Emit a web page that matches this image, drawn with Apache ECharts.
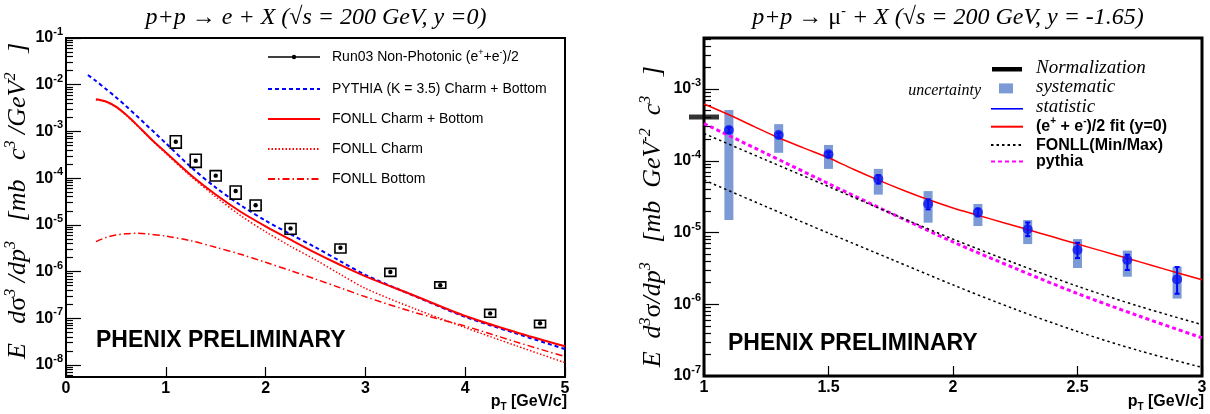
<!DOCTYPE html>
<html>
<head>
<meta charset="utf-8">
<script src="https://cdn.jsdelivr.net/npm/echarts@6/dist/echarts.min.js"></script>
<style>
html, body { margin: 0; padding: 0; background: #fff; }
#chart { width: 1210px; height: 414px; }
</style>
</head>
<body>
<div id="chart"></div>
<script>
const SANS = '"Liberation Sans", Arial, sans-serif'
const SERIF = '"Liberation Serif", "Times New Roman", serif'

// ---- left panel: p+p -> e + X, y = 0 ----
const runPt = [1.1, 1.3, 1.5, 1.7, 1.9, 2.25, 2.75, 3.25, 3.75, 4.25, 4.75]
const runVal = [6.0e-4, 2.36e-4, 1.13e-4, 5.3e-5, 2.63e-5, 8.4e-6, 3.24e-6, 9.8e-7, 5.1e-7, 1.27e-7, 7.8e-8]
const runSysHi = [8.1e-4, 3.24e-4, 1.45e-4, 6.8e-5, 3.4e-5, 1.07e-5, 3.9e-6, 1.17e-6, 6.0e-7, 1.55e-7, 9.1e-8]
const runSysLo = [4.4e-4, 1.7e-4, 8.7e-5, 3.55e-5, 2.0e-5, 6.3e-6, 2.5e-6, 7.9e-7, 4.4e-7, 1.05e-7, 6.3e-8]

const pythiaPt = [0.22, 0.3, 0.4, 0.5, 0.6, 0.7, 0.8, 0.9, 1.0, 1.25, 1.5, 1.75, 2.0, 2.25, 2.5, 2.75, 3.0, 3.5, 4.0, 4.5, 5.0]
const pythiaVal = [1.62e-2, 1.2e-2, 8.1e-3, 5.4e-3, 3.5e-3, 2.24e-3, 1.41e-3, 8.9e-4, 5.6e-4, 1.74e-4, 6.3e-5, 2.63e-5, 1.23e-5, 6.3e-6, 3.3e-6, 1.66e-6, 8.5e-7, 2.95e-7, 1.07e-7, 4.8e-8, 2.19e-8]

const fonllPt = [0.3, 0.4, 0.5, 0.6, 0.7, 0.8, 0.9, 1.0, 1.25, 1.5, 1.75, 2.0, 2.25, 2.5, 2.75, 3.0, 3.5, 4.0, 4.5, 5.0]
const fonllVal = [4.9e-3, 4.37e-3, 3.39e-3, 2.29e-3, 1.45e-3, 8.9e-4, 5.5e-4, 3.55e-4, 1.17e-4, 4.47e-5, 1.91e-5, 9.3e-6, 4.8e-6, 2.51e-6, 1.38e-6, 7.9e-7, 3.0e-7, 1.12e-7, 5.1e-8, 2.51e-8]
const charmVal = [4.79e-3, 4.27e-3, 3.31e-3, 2.24e-3, 1.41e-3, 8.7e-4, 5.4e-4, 3.39e-4, 1.1e-4, 3.98e-5, 1.58e-5, 7.1e-6, 3.47e-6, 1.78e-6, 8.7e-7, 4.37e-7, 1.58e-7, 6.3e-8, 2.63e-8, 1.12e-8]

const bottomPt = [0.3, 0.4, 0.5, 0.6, 0.7, 0.8, 1.0, 1.25, 1.5, 1.75, 2.0, 2.25, 2.5, 2.75, 3.0, 3.5, 4.0, 4.5, 5.0]
const bottomVal = [4.37e-6, 5.37e-6, 6.03e-6, 6.46e-6, 6.6e-6, 6.46e-6, 5.75e-6, 4.57e-6, 3.31e-6, 2.34e-6, 1.58e-6, 1.05e-6, 6.9e-7, 4.47e-7, 2.88e-7, 1.32e-7, 6.8e-8, 3.16e-8, 1.51e-8]

// ---- right panel: p+p -> mu- + X, y = -1.65 ----
const muPt = [1.1, 1.3, 1.5, 1.7, 1.9, 2.1, 2.3, 2.5, 2.7, 2.9]
const muVal = [2.68e-4, 2.28e-4, 1.23e-4, 5.57e-5, 2.5e-5, 1.91e-5, 1.11e-5, 5.7e-6, 4.14e-6, 2.22e-6]
const muSysHi = [5.1e-4, 3.24e-4, 1.66e-4, 7.7e-5, 3.78e-5, 2.5e-5, 1.49e-5, 8.1e-6, 5.6e-6, 3.34e-6]
const muSysLo = [1.49e-5, 1.29e-4, 7.7e-5, 3.37e-5, 1.37e-5, 1.23e-5, 6.9e-6, 3.2e-6, 2.42e-6, 1.2e-6]
const muStatHi = [2.9e-4, 2.45e-4, 1.32e-4, 6.3e-5, 2.9e-5, 2.15e-5, 1.38e-5, 7.2e-6, 4.9e-6, 3.3e-6]
const muStatLo = [2.46e-4, 2.1e-4, 1.14e-4, 4.8e-5, 2.1e-5, 1.68e-5, 8.9e-6, 4.4e-6, 3.0e-6, 1.4e-6]

const fitPt = [1.0, 1.1, 1.2, 1.3, 1.4, 1.5, 1.6, 1.7, 1.8, 1.9, 2.0, 2.1, 2.2, 2.3, 2.4, 2.5, 2.6, 2.7, 2.8, 2.9, 3.0]
const fitVal = [6.17e-4, 4.37e-4, 3.02e-4, 2.09e-4, 1.51e-4, 1.1e-4, 7.6e-5, 5.37e-5, 3.89e-5, 2.88e-5, 2.2e-5, 1.74e-5, 1.38e-5, 1.1e-5, 8.7e-6, 6.9e-6, 5.5e-6, 4.37e-6, 3.47e-6, 2.75e-6, 2.19e-6]

const modelPt = [1.0, 1.25, 1.5, 1.75, 2.0, 2.25, 2.5, 2.75, 3.0]
const fonllMaxVal = [2.4e-4, 1.02e-4, 4.37e-5, 1.86e-5, 8.1e-6, 3.72e-6, 1.78e-6, 9.3e-7, 5.2e-7]
const fonllMinVal = [5.4e-5, 2.29e-5, 9.8e-6, 4.27e-6, 1.86e-6, 8.5e-7, 4.17e-7, 2.24e-7, 1.32e-7]
const pythiaMuVal = [3.3e-4, 1.26e-4, 4.8e-5, 1.86e-5, 7.4e-6, 3.16e-6, 1.41e-6, 6.8e-7, 3.4e-7]

const normPt = [1.0]
const normVal = [4.07e-4]

// axis ranges and tick labels
const leftYMin = 5.53e-9
const leftYMax = 1e-1
const rightYMin = 1e-7
const rightYMax = 5.14e-3
const leftDecades = [1e-8, 1e-7, 1e-6, 1e-5, 1e-4, 1e-3, 1e-2, 1e-1]
const rightDecades = [1e-7, 1e-6, 1e-5, 1e-4, 1e-3]

// 2..9 x 10^n ticks between the decades
const minorTicks = (decades, lo, hi) => {
  const out = []
  const all = [decades[0] / 10].concat(decades)
  all.forEach(d => {
    for (let k = 2; k <= 9; k++) {
      const v = k * d
      if (v >= lo && v <= hi) out.push(v)
    }
  })
  return out
}

const pairs = (xs, ys) => xs.map((x, i) => [x, ys[i]])

const decadeLabel = v => '{b|10}{s|' + Math.round(Math.log10(v)) + '}'

const tickRich = {
  b: { fontFamily: SANS, fontWeight: 'bold', fontSize: 16, color: '#000' },
  s: { fontFamily: SANS, fontWeight: 'bold', fontSize: 11, color: '#000', padding: [0, 0, 12, 0] }
}

const nameRich = {
  i: { fontFamily: SERIF, fontStyle: 'italic', fontSize: 26, color: '#000' },
  u: { fontFamily: SERIF, fontSize: 26, color: '#000' },
  s: { fontFamily: SERIF, fontStyle: 'italic', fontSize: 16, color: '#000', padding: [0, 0, 15, 0] }
}

const ptRich = {
  b: { fontFamily: SANS, fontWeight: 'bold', fontSize: 16, fill: '#000' },
  t: { fontFamily: SANS, fontWeight: 'bold', fontSize: 10, fill: '#000', padding: [10, 0, 0, 0] }
}

const makeXAxis = (grid, min, max, interval) => ({
  gridIndex: grid,
  type: 'value',
  min: min,
  max: max,
  interval: interval,
  axisLine: { show: false },
  axisTick: { inside: true, length: 10, lineStyle: { color: '#000', width: 1.2 } },
  axisLabel: { fontFamily: SANS, fontWeight: 'bold', fontSize: 16, color: '#000', margin: 4 },
  splitLine: { show: false }
})

const makeMajorY = (grid, min, max, decades, name, gap) => ({
  gridIndex: grid,
  type: 'log',
  position: 'left',
  min: min,
  max: max,
  axisLine: { show: false },
  axisTick: { inside: true, length: 15, customValues: decades, lineStyle: { color: '#000', width: 1.2 } },
  axisLabel: { customValues: decades, formatter: decadeLabel, rich: tickRich, margin: 3 },
  splitLine: { show: false },
  name: name,
  nameLocation: 'middle',
  nameRotate: 90,
  nameGap: gap,
  nameTextStyle: { rich: nameRich }
})

const makeMinorY = (grid, min, max, decades) => ({
  gridIndex: grid,
  type: 'log',
  position: 'left',
  min: min,
  max: max,
  axisLine: { show: false },
  axisTick: { inside: true, length: 7, customValues: minorTicks(decades, min, max), lineStyle: { color: '#000', width: 1.2 } },
  axisLabel: { show: false },
  splitLine: { show: false }
})

// open box (systematic) with the point inside
const renderRunBox = (params, api) => {
  const x = api.value(0)
  const c = api.coord([x, api.value(1)])
  const top = api.coord([x, api.value(2)])
  const bot = api.coord([x, api.value(3)])
  return {
    type: 'group',
    children: [
      { type: 'rect', shape: { x: c[0] - 5.5, y: top[1], width: 11, height: bot[1] - top[1] },
        style: { fill: 'none', stroke: '#000', lineWidth: 1.6 } },
      { type: 'circle', shape: { cx: c[0], cy: c[1], r: 2.2 }, style: { fill: '#000' } }
    ]
  }
}

const renderSysBox = (params, api) => {
  const x = api.value(0)
  const top = api.coord([x, api.value(1)])
  const bot = api.coord([x, api.value(2)])
  return { type: 'rect', shape: { x: top[0] - 4.5, y: top[1], width: 9, height: bot[1] - top[1] },
    style: { fill: '#7c9bd6' } }
}

const renderStatBar = (params, api) => {
  const x = api.value(0)
  const top = api.coord([x, api.value(1)])
  const bot = api.coord([x, api.value(2)])
  const st = { stroke: '#0000ff', lineWidth: 2 }
  return {
    type: 'group',
    children: [
      { type: 'line', shape: { x1: top[0], y1: top[1], x2: bot[0], y2: bot[1] }, style: st },
      { type: 'line', shape: { x1: top[0] - 2.5, y1: top[1], x2: top[0] + 2.5, y2: top[1] }, style: st },
      { type: 'line', shape: { x1: bot[0] - 2.5, y1: bot[1], x2: bot[0] + 2.5, y2: bot[1] }, style: st }
    ]
  }
}

const leftLegendText = {
  'Run03': '{t|Run03 Non-Photonic (e}{ts|+}{t|+e}{ts|-}{t|)/2}',
  'PYTHIA': '{t|PYTHIA (K = 3.5) Charm + Bottom}',
  'FONLL Charm + Bottom': '{t|FONLL Charm + Bottom}',
  'FONLL Charm': '{t|FONLL Charm}',
  'FONLL Bottom': '{t|FONLL Bottom}'
}

const rightLegendText = {
  'Normalization': '{it|Normalization}',
  'systematic': '{it|systematic}',
  'statistic': '{it|statistic}',
  'fit': '{bd|(e}{bs|+}{bd| + e}{bs|-}{bd|)/2 fit (y=0)}',
  'FONLL(Min/Max)': '{bd|FONLL(Min/Max)}',
  'pythia': '{bd|pythia}'
}

const shown = { opacity: 1 }

const chart = echarts.init(document.getElementById('chart'))

const option = {
  animation: false,
  backgroundColor: '#fff',
  grid: [
    { left: 66, top: 38, width: 499, height: 339, show: true, borderColor: '#000', borderWidth: 2, outerBoundsMode: 'none' },
    { left: 704, top: 38, width: 498, height: 338, show: true, borderColor: '#000', borderWidth: 3, outerBoundsMode: 'none' }
  ],
  xAxis: [
    makeXAxis(0, 0, 5, 1),
    makeXAxis(1, 1, 3, 0.5)
  ],
  yAxis: [
    makeMajorY(0, leftYMin, leftYMax, leftDecades,
      '{i|  E   d}{u|σ}{s|3}{i| /dp}{s|3}{i|   [mb   c}{s|3}{i| /GeV}{s|2}{i|   ]}', 29),
    makeMinorY(0, leftYMin, leftYMax, leftDecades),
    makeMajorY(1, rightYMin, rightYMax, rightDecades,
      '{i|E  d}{s|3}{u|σ}{i|/dp}{s|3}{i|   [mb  GeV}{s|-2}{i|  c}{s|3}{i|   ]   }', 35),
    makeMinorY(1, rightYMin, rightYMax, rightDecades)
  ],
  legend: [
    {
      orient: 'vertical',
      left: 267,
      top: 48,
      padding: 0,
      itemWidth: 52,
      itemHeight: 14,
      itemGap: 16,
      selectedMode: false,
      itemStyle: { opacity: 0 },
      data: [
        { name: 'Run03', itemStyle: shown,
          icon: 'path://M0,0 M52,14 M0,6.2 L52,6.2 L52,7.8 L0,7.8 Z M23.8,7 A2.2,2.2 0 1 1 28.2,7 A2.2,2.2 0 1 1 23.8,7 Z' },
        'PYTHIA', 'FONLL Charm + Bottom', 'FONLL Charm', 'FONLL Bottom'
      ],
      formatter: name => leftLegendText[name],
      textStyle: {
        padding: [0, 0, 0, 7],
        rich: {
          t: { fontFamily: SANS, fontSize: 14, color: '#000', lineHeight: 16 },
          ts: { fontFamily: SANS, fontSize: 9, color: '#000', lineHeight: 8, padding: [0, 0, 9, 0] }
        }
      }
    },
    {
      orient: 'vertical',
      left: 990,
      top: 58.5,
      padding: 0,
      itemWidth: 32,
      itemHeight: 19,
      itemGap: 0.4,
      selectedMode: false,
      itemStyle: { opacity: 0 },
      data: [
        { name: 'Normalization', itemStyle: shown, icon: 'path://M0,0 M32,19 M1,8.5 L31,8.5 L31,13 L1,13 Z' },
        { name: 'systematic', itemStyle: shown, icon: 'path://M0,0 M32,19 M8,5.5 L22,5.5 L22,15.5 L8,15.5 Z' },
        { name: 'statistic', itemStyle: shown, icon: 'path://M0,0 M32,19 M0,10.7 L32,10.7 L32,12.3 L0,12.3 Z' },
        'fit', 'FONLL(Min/Max)', 'pythia'
      ],
      formatter: name => rightLegendText[name],
      textStyle: {
        padding: [0, 0, 0, 8],
        rich: {
          it: { fontFamily: SERIF, fontStyle: 'italic', fontSize: 19, color: '#000', lineHeight: 19 },
          bd: { fontFamily: SANS, fontWeight: 'bold', fontSize: 16, color: '#000', lineHeight: 19 },
          bs: { fontFamily: SANS, fontWeight: 'bold', fontSize: 10, color: '#000', lineHeight: 8, padding: [0, 0, 10, 0] }
        }
      }
    }
  ],
  graphic: [
    { type: 'text', x: 316, y: 18, style: {
      text: '{i|p+p → e + X (√s = 200 GeV, y =0)}', align: 'center', verticalAlign: 'middle',
      rich: { i: { fontFamily: SERIF, fontStyle: 'italic', fontSize: 24, fill: '#000' } } } },
    { type: 'text', x: 948, y: 18, style: {
      text: '{i|p+p → }{u|μ}{us|-}{i| + X (√s = 200 GeV, y = -1.65)}', align: 'center', verticalAlign: 'middle',
      rich: {
        i: { fontFamily: SERIF, fontStyle: 'italic', fontSize: 24, fill: '#000' },
        u: { fontFamily: SERIF, fontSize: 24, fill: '#000' },
        us: { fontFamily: SERIF, fontSize: 14, fill: '#000', padding: [0, 0, 13, 0] }
      } } },
    { type: 'text', x: 567, y: 402, style: {
      text: '{b|p}{t|T}{b| [GeV/c]}', align: 'right', verticalAlign: 'middle', rich: ptRich } },
    { type: 'text', x: 1204, y: 402, style: {
      text: '{b|p}{t|T}{b| [GeV/c]}', align: 'right', verticalAlign: 'middle', rich: ptRich } },
    { type: 'text', x: 96, y: 341, style: {
      text: 'PHENIX PRELIMINARY', fontFamily: SANS, fontWeight: 'bold', fontSize: 23, fill: '#000',
      align: 'left', verticalAlign: 'middle' } },
    { type: 'text', x: 728, y: 344, style: {
      text: 'PHENIX PRELIMINARY', fontFamily: SANS, fontWeight: 'bold', fontSize: 23, fill: '#000',
      align: 'left', verticalAlign: 'middle' } },
    { type: 'text', x: 981, y: 91, style: {
      text: 'uncertainty', fontFamily: SERIF, fontStyle: 'italic', fontSize: 16, fill: '#000',
      align: 'right', verticalAlign: 'middle' } }
  ],
  series: [
    // left panel
    {
      name: 'FONLL Bottom', type: 'line', xAxisIndex: 0, yAxisIndex: 0,
      data: pairs(bottomPt, bottomVal), symbol: 'none', smooth: 0.3,
      lineStyle: { color: '#ff0000', width: 1.5, type: [7, 3, 1.5, 3] }
    },
    {
      name: 'FONLL Charm', type: 'line', xAxisIndex: 0, yAxisIndex: 0,
      data: pairs(fonllPt, charmVal), symbol: 'none', smooth: 0.3,
      lineStyle: { color: '#ff0000', width: 1.5, type: [1.5, 2] }
    },
    {
      name: 'PYTHIA', type: 'line', xAxisIndex: 0, yAxisIndex: 0,
      data: pairs(pythiaPt, pythiaVal), symbol: 'none', smooth: 0.3,
      lineStyle: { color: '#0000ff', width: 2, type: [4, 3] }
    },
    {
      name: 'FONLL Charm + Bottom', type: 'line', xAxisIndex: 0, yAxisIndex: 0,
      data: pairs(fonllPt, fonllVal), symbol: 'none', smooth: 0.3,
      lineStyle: { color: '#ff0000', width: 2 }
    },
    {
      name: 'Run03', type: 'custom', xAxisIndex: 0, yAxisIndex: 0,
      data: runPt.map((x, i) => [x, runVal[i], runSysHi[i], runSysLo[i]]),
      encode: { x: 0, y: 1 }, renderItem: renderRunBox, itemStyle: { color: '#000' }, z: 10
    },
    // right panel
    {
      name: 'pythia', type: 'line', xAxisIndex: 1, yAxisIndex: 2,
      data: pairs(modelPt, pythiaMuVal), symbol: 'none', smooth: 0.3,
      lineStyle: { color: '#ff00ff', width: 3, type: [4, 3] }
    },
    {
      name: 'FONLL(Min/Max)', type: 'line', xAxisIndex: 1, yAxisIndex: 2,
      data: pairs(modelPt, fonllMaxVal), symbol: 'none', smooth: 0.3,
      lineStyle: { color: '#000', width: 1.5, type: [2.5, 3] }
    },
    {
      name: 'FONLL(Min/Max)', type: 'line', xAxisIndex: 1, yAxisIndex: 2,
      data: pairs(modelPt, fonllMinVal), symbol: 'none', smooth: 0.3,
      lineStyle: { color: '#000', width: 1.5, type: [2.5, 3] }
    },
    {
      name: 'systematic', type: 'custom', xAxisIndex: 1, yAxisIndex: 2,
      data: muPt.map((x, i) => [x, muSysHi[i], muSysLo[i]]),
      encode: { x: 0, y: 1 }, renderItem: renderSysBox, itemStyle: { color: '#7c9bd6' }, z: 3
    },
    {
      name: 'fit', type: 'line', xAxisIndex: 1, yAxisIndex: 2,
      data: pairs(fitPt, fitVal), symbol: 'none', smooth: 0.3,
      lineStyle: { color: '#ff0000', width: 1.5 }, z: 4
    },
    {
      name: 'statistic', type: 'custom', xAxisIndex: 1, yAxisIndex: 2,
      data: muPt.map((x, i) => [x, muStatHi[i], muStatLo[i]]),
      encode: { x: 0, y: 1 }, renderItem: renderStatBar, itemStyle: { color: '#0000ff' }, z: 5
    },
    {
      name: 'points', type: 'scatter', xAxisIndex: 1, yAxisIndex: 2,
      data: pairs(muPt, muVal), symbol: 'circle', symbolSize: 10,
      itemStyle: { color: '#0a14f0' }, z: 6
    },
    {
      name: 'Normalization', type: 'scatter', xAxisIndex: 1, yAxisIndex: 2,
      data: pairs(normPt, normVal), symbol: 'rect', symbolSize: [30, 5], clip: false,
      itemStyle: { color: '#000' }, z: 7
    }
  ]
}

chart.setOption(option)
</script>
</body>
</html>
